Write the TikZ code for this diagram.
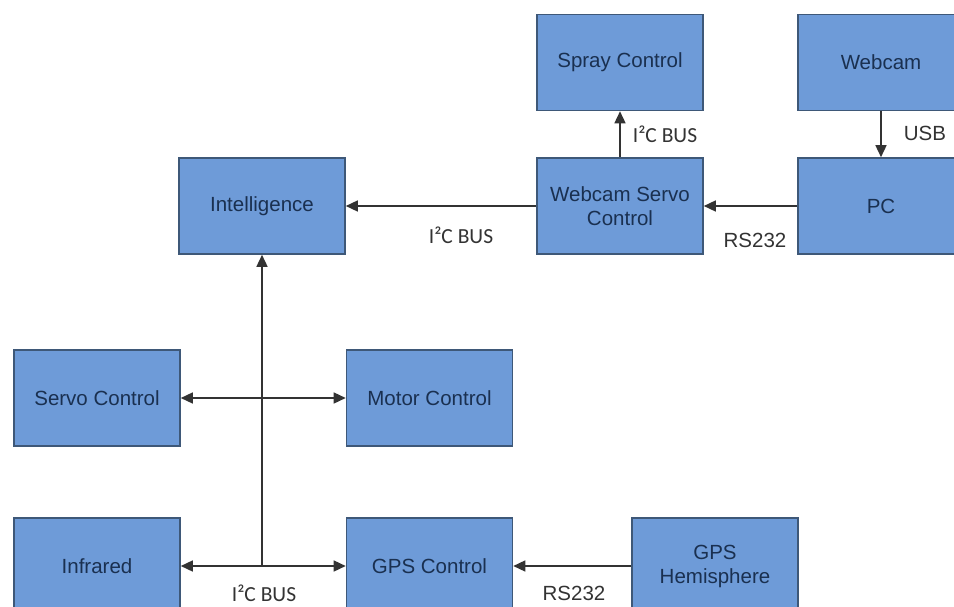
\documentclass[tikz,border=0pt]{standalone}
\usepackage{fontspec}
\setmainfont{Liberation Sans}
\newfontfamily\calib{Carlito}
\usetikzlibrary{arrows.meta}
\definecolor{boxfill}{HTML}{6E9BD8}
\definecolor{boxline}{HTML}{3E5878}
\definecolor{boxtext}{HTML}{1A3050}
\definecolor{wire}{HTML}{333333}
\definecolor{lbl}{HTML}{333333}
\tikzset{
  blk/.style={draw=boxline, line width=1.6pt, fill=boxfill, text=boxtext,
    minimum width=166pt, minimum height=96pt, inner sep=0pt, align=center,
    font=\fontsize{20.5pt}{24pt}\selectfont},
  wirearrow/.style={draw=wire, line width=1.5pt, -{Triangle[length=12pt,width=11pt]}},
  dblarrow/.style={draw=wire, line width=1.5pt, {Triangle[length=12pt,width=11pt]}-{Triangle[length=12pt,width=11pt]}},
  bustext/.style={text=lbl, font=\calib\fontsize{21.5pt}{24pt}\selectfont, inner sep=0pt},
  sertext/.style={text=lbl, font=\fontsize{20.5pt}{24pt}\selectfont, inner sep=0pt}
}
\begin{document}
\begin{tikzpicture}[x=1pt,y=-1pt]
\useasboundingbox (0,0) rectangle (954,607);
\clip (0,0) rectangle (954,607);
\fill[white] (0,0) rectangle (954,607);
\node[blk] (spray) at (620,62.5) {Spray Control};
\node[blk] (webcam) at (881,62.5) {Webcam};
\node[blk] (wsc) at (620,206) {Webcam Servo\\Control};
\node[blk] (pc) at (881,206) {PC};
\node[blk] (intel) at (262,206) {Intelligence};
\node[blk] (servo) at (97,398) {Servo Control};
\node[blk] (motor) at (429.5,398) {Motor Control};
\node[blk] (infra) at (97,566) {Infrared};
\node[blk] (gps) at (429.5,566) {GPS Control};
\node[blk] (hemi) at (715,566) {GPS\\Hemisphere};
\coordinate (bus) at (262,566);
\draw[wirearrow] (wsc.north) -- (spray.south);
\draw[wirearrow] (webcam.south) -- (pc.north);
\draw[wirearrow] (pc.west) -- (wsc.east);
\draw[wirearrow] (wsc.west) -- (intel.east);
\draw[wirearrow] (bus) -- (intel.south);
\draw[wirearrow] (bus) -- (infra.east);
\draw[wirearrow] (bus) -- (gps.west);
\draw[dblarrow] (servo.east) -- (motor.west);
\draw[wirearrow] (hemi.west) -- (gps.east);
\node[bustext] (l1) at (665,134) {I²C BUS};
\node[sertext] (l2) at (925,133) {USB};
\node[sertext] (l3) at (755,240) {RS232};
\node[bustext] (l4) at (461,235) {I²C BUS};
\node[bustext] (l5) at (264,593) {I²C BUS};
\node[sertext] (l6) at (574,593) {RS232};
\end{tikzpicture}
\end{document}
